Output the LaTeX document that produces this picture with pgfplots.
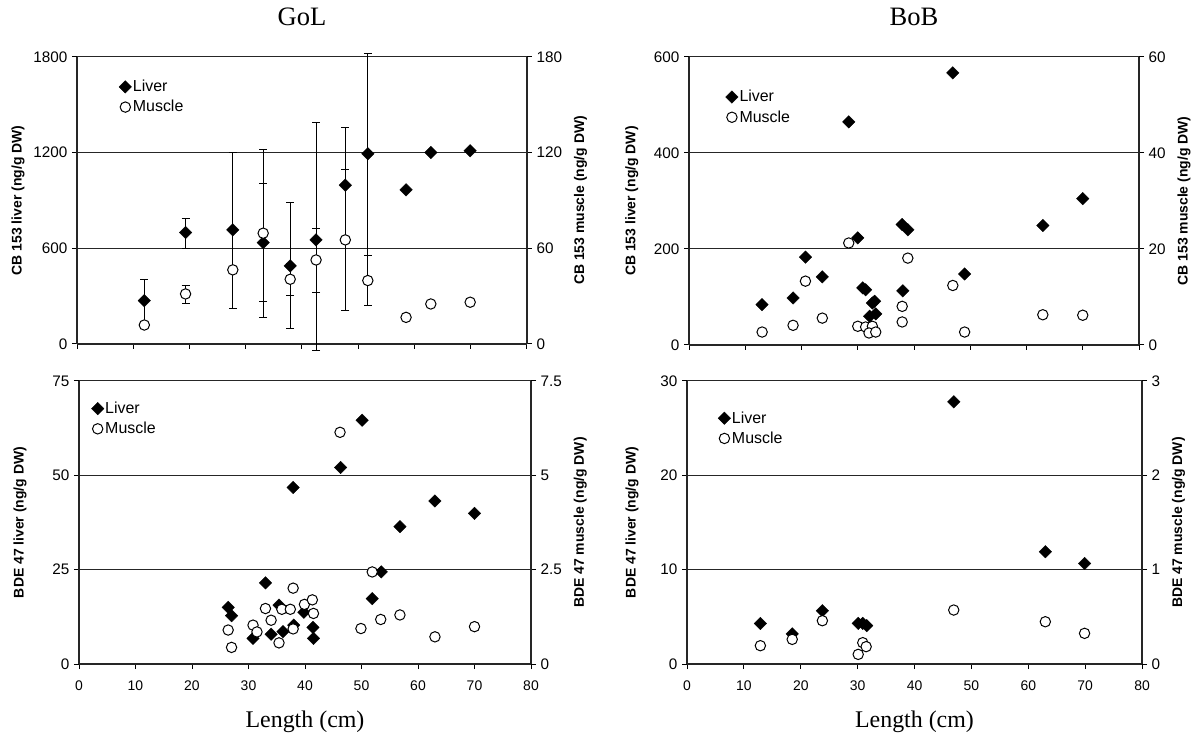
\documentclass[border=0pt]{standalone}
\usepackage{fontspec}
\setmainfont{Liberation Sans}
\newfontfamily\tnr{Liberation Serif}
\usepackage{pgfplots}
\pgfplotsset{compat=1.18}
\newcommand\lf{\fontsize{12}{14}\selectfont}
\pgfplotsset{
 base/.style={
   scale only axis,
   xmin=0,xmax=80, xtick={0,10,...,80},
   tick align=outside,
   major tick length=3.75bp,
   axis line style={line width=1bp, black!85},
   every tick/.style={black, line width=0.75bp},
   xticklabel style={yshift=-5bp, font=\fontsize{10.5}{12}\selectfont},
   yticklabel style={font=\fontsize{11.5}{13}\selectfont},
   /pgf/number format/assume math mode=true,
   /pgf/number format/set thousands separator={},
   label style={font=\bfseries\fontsize{10.5}{12}\selectfont},
   clip=false,
   ymin=0,
 },
 leftax/.style={base, axis x line*=bottom, axis y line*=left, ymajorgrids,
   grid style={line width=0.75bp, black!85},
   ylabel style={at={(axis description cs:#1,0.5)}, anchor=center},
   title style={font=\tnr\fontsize{20}{24}\selectfont, yshift=14bp},
   xlabel style={font=\tnr\fontsize{18}{21}\selectfont, yshift=-9bp}},
 rightax/.style={base, axis x line=none, axis y line*=right,
   ylabel style={yshift=-2bp},
   legend style={draw=none, fill=none, inner sep=0pt, anchor=north west,
     row sep=3bp, nodes={inner sep=1bp}},
   legend cell align=left,
   legend image code/.code={\draw[##1] plot coordinates {(0.16cm,0cm)};}},
 liver/.style={only marks, mark=square*, mark size=3.3bp, mark options={rotate=45, fill=black, draw=black, line width=0.3bp}},
 muscle/.style={only marks, mark=*, mark size=3.9bp, mark options={fill=white, draw=black, line width=0.75bp}},
 ebar/.style={error bars/.cd, y dir=both, y explicit,
   error bar style={line width=0.75bp, black},
   error mark options={rotate=90, mark size=3bp, line width=0.75bp, black}},
}
\begin{document}
\begin{tikzpicture}
\useasboundingbox (0,0) rectangle (897.75bp,552bp);
% ---------------- Top left: GoL CB 153
\begin{axis}[leftax=-0.131, at={(57.75bp,294bp)}, anchor=south west,
  width=337.5bp, height=215.25bp, ymax=1800, ytick={0,600,1200,1800},
  xticklabels={}, title={GoL}, ylabel={CB 153 liver (ng/g DW)}]
\addplot[liver, ebar] table[x=x, y=y, y error plus=ep, y error minus=em] {
x y ep em
11.97 272 134 134
19.3 699 88 99
27.7 716 485 494
33.1 636 373 370
37.9 490 400 392
42.5 653 739 691
47.7 996 364 364
51.7 1193 628 638
};
\addplot[liver] table {
58.5 967
62.9 1201
69.9 1212
};
\end{axis}
\begin{axis}[rightax, at={(57.75bp,294bp)}, anchor=south west,
  width=337.5bp, height=215.25bp, ymax=180, ytick={0,60,120,180},
  ylabel={CB 153 muscle (ng/g DW)},
  legend style={at={(axis description cs:0.093,0.925)}}]
\addlegendimage{liver}
\addlegendentry{\lf Liver}
\addplot[muscle, ebar] table[x=x, y=y, y error plus=ep, y error minus=em] {
x y ep em
19.3 31.4 5.2 5.9
27.7 46.5 24 24
33.1 69.5 52.7 52.8
37.9 40.6 10.0 10.0
42.5 52.7 19.5 20.3
47.7 65.3 44.4 44.6
51.7 39.8 15.7 15.5
};
\addlegendentry{\lf Muscle}
\addplot[muscle, forget plot] table {
11.97 11.9
58.5 16.7
62.9 25.1
69.9 26.2
};
\end{axis}
% ---------------- Top right: BoB CB 153
\begin{axis}[leftax=-0.127, at={(516.75bp,293.25bp)}, anchor=south west,
  width=337.5bp, height=216bp, ymax=600, ytick={0,200,400,600},
  xticklabels={}, title={BoB}, ylabel={CB 153 liver (ng/g DW)}]
\addplot[liver] table {
12.98 84
18.5 98
20.7 183
23.7 142
28.4 465
30.0 223
30.9 119
31.4 115
32.6 87.5
33.0 91
32.1 60
33.2 65
37.9 251
38.9 240
38.0 113
46.9 567
49.0 148
62.9 249
70.0 305
};
\end{axis}
\begin{axis}[rightax, at={(516.75bp,293.25bp)}, anchor=south west,
  width=337.5bp, height=216bp, ymax=60, ytick={0,20,40,60},
  ylabel={CB 153 muscle (ng/g DW)},
  legend style={at={(axis description cs:0.081,0.890)}}]
\addlegendimage{liver}
\addlegendentry{\lf Liver}
\addplot[muscle] table {
13.0 2.7
18.5 4.1
20.7 13.3
23.7 5.6
28.4 21.25
30.0 3.9
31.4 3.75
32.6 3.9
32.0 2.5
33.2 2.7
37.9 8.05
37.9 4.8
38.9 18.1
46.9 12.4
49.0 2.7
62.9 6.3
70.0 6.2
};
\addlegendentry{\lf Muscle}
\end{axis}
% ---------------- Bottom left: GoL BDE 47
\begin{axis}[leftax=-0.1305, at={(59.25bp,54bp)}, anchor=south west,
  width=339bp, height=212.25bp, ymax=75, ytick={0,25,50,75},
  xlabel={Length (cm)}, ylabel={BDE 47 liver (ng/g DW)}]
\addplot[liver] table {
26.4 15.0
27.0 12.8
30.8 6.8
33.0 21.5
34.0 7.9
35.4 15.6
36.1 8.6
37.9 46.8
38.0 10.3
39.8 13.7
41.4 9.7
41.5 6.8
46.3 52.1
50.1 64.6
51.9 17.3
53.5 24.4
56.8 36.4
63.0 43.2
70.0 39.9
};
\end{axis}
\begin{axis}[rightax, at={(59.25bp,54bp)}, anchor=south west,
  width=339bp, height=212.25bp, ymax=7.5, ytick={0,2.5,5,7.5},
  ylabel={BDE 47 muscle (ng/g DW)},
  legend style={at={(axis description cs:0.027,0.932)}}]
\addlegendimage{liver}
\addlegendentry{\lf Liver}
\addplot[muscle] table {
26.4 0.90
27.0 0.44
30.8 1.03
31.5 0.85
33.0 1.47
34.0 1.16
35.4 0.56
35.9 1.45
37.4 1.45
37.9 2.01
37.9 0.93
39.9 1.58
41.3 1.70
41.5 1.34
46.2 6.14
49.9 0.94
51.9 2.44
53.4 1.18
56.8 1.30
63.0 0.72
70.0 0.99
};
\addlegendentry{\lf Muscle}
\end{axis}
% ---------------- Bottom right: BoB BDE 47
\begin{axis}[leftax=-0.121, at={(515.25bp,54bp)}, anchor=south west,
  width=341.25bp, height=212.25bp, ymax=30, ytick={0,10,20,30},
  xlabel={Length (cm)}, ylabel={BDE 47 liver (ng/g DW)}]
\addplot[liver] table {
12.9 4.3
18.5 3.2
23.8 5.65
30.1 4.3
30.9 4.3
31.6 4.06
46.9 27.8
63.0 11.9
69.9 10.66
};
\end{axis}
\begin{axis}[rightax, at={(515.25bp,54bp)}, anchor=south west,
  width=341.25bp, height=212.25bp, ymax=3, ytick={0,1,2,3},
  ylabel={BDE 47 muscle (ng/g DW)},
  legend style={at={(axis description cs:0.068,0.898)}}]
\addlegendimage{liver}
\addlegendentry{\lf Liver}
\addplot[muscle] table {
12.9 0.194
18.5 0.261
23.8 0.459
30.1 0.102
30.9 0.226
31.5 0.184
46.9 0.572
63.0 0.448
69.9 0.325
};
\addlegendentry{\lf Muscle}
\end{axis}
\end{tikzpicture}
\end{document}
